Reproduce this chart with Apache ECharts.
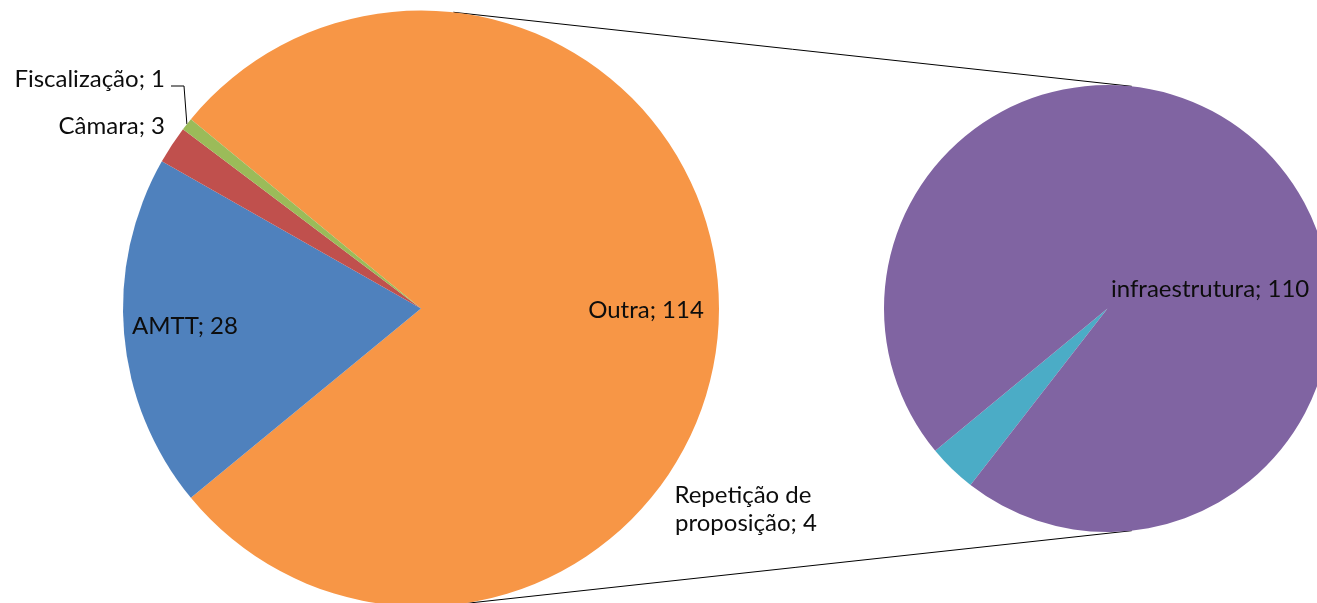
<!DOCTYPE html>
<html>
<head>
<meta charset="utf-8">
<title>Pie of pie</title>
<script src="https://cdn.jsdelivr.net/npm/echarts@6/dist/echarts.min.js"></script>
<style>
  html, body { margin: 0; padding: 0; background: #fff; }
  #chart { width: 1317px; height: 603px; }
</style>
</head>
<body>
<div id="chart"></div>
<script>
// data
var mainNames = ['Outra', 'AMTT', 'Câmara', 'Fiscalização'];
var mainValues = [114, 28, 3, 1];
var mainColors = ['#F79646', '#4F81BD', '#C0504D', '#9BBB59'];

var subNames = ['Repetição de proposição', 'infraestrutura'];
var subValues = [4, 110];
var subColors = ['#4BACC6', '#8064A2'];

// layout
var C1 = [421, 308.5], R1 = 298;
var C2 = [1107.5, 308.5], R2 = 223.5;
var mainSum = mainValues.reduce(function (a, b) { return a + b; }, 0);
var mainStart = 180 * mainValues[0] / mainSum; // "Outra" centred on the right
var subStart = 232.2;

var mainLabelPos = [
    { x: 646, y: 310, align: 'center' },
    { x: 185, y: 326, align: 'center' },
    { x: 165, y: 126, align: 'right' },
    { x: 165, y: 79, align: 'right' }
];
var subLabelPos = [
    { x: 746, y: 509, align: 'center' },
    { x: 1111, y: 289, align: 'left' }
];

var font = { fontFamily: 'Lato', fontSize: 24, color: '#0d0d0d' };

function buildData(names, values, colors) {
    return names.map(function (n, i) {
        return { name: n, value: values[i], itemStyle: { color: colors[i] } };
    });
}

var subData = buildData(subNames, subValues, subColors);
subData[0].label = { width: 180, overflow: 'break', lineHeight: 28, align: 'center' };

// connector lines: outer tangents of the two circles
var phi = Math.acos((R1 - R2) / (C2[0] - C1[0]));
var cs = Math.cos(phi), sn = Math.sin(phi);
function tangentLine(s) {
    return {
        type: 'line',
        shape: {
            x1: C1[0] + R1 * cs, y1: C1[1] + s * R1 * sn,
            x2: C2[0] + R2 * cs, y2: C2[1] + s * R2 * sn
        },
        style: { stroke: '#000', lineWidth: 1 }
    };
}

// leader line for the smallest slice
var fiscMid = (mainStart - 360 * (mainSum - mainValues[3] / 2) / mainSum) * Math.PI / 180;
var fiscEnd = [C1[0] + R1 * Math.cos(fiscMid), C1[1] - R1 * Math.sin(fiscMid)];

var chart = echarts.init(document.getElementById('chart'));
chart.setOption({
    animation: false,
    backgroundColor: '#fff',
    series: [{
        type: 'pie',
        center: C1,
        radius: R1,
        startAngle: mainStart,
        clockwise: true,
        avoidLabelOverlap: false,
        itemStyle: { borderWidth: 0 },
        emphasis: { disabled: true },
        label: Object.assign({ show: true, position: 'inside', formatter: '{b}; {c}' }, font),
        labelLine: { show: false },
        labelLayout: function (p) {
            var l = mainLabelPos[p.dataIndex];
            return { x: l.x, y: l.y, align: l.align, verticalAlign: 'middle' };
        },
        data: buildData(mainNames, mainValues, mainColors)
    }, {
        type: 'pie',
        center: C2,
        radius: R2,
        startAngle: subStart,
        clockwise: true,
        avoidLabelOverlap: false,
        itemStyle: { borderWidth: 0 },
        emphasis: { disabled: true },
        label: Object.assign({ show: true, position: 'inside', formatter: '{b}; {c}' }, font),
        labelLine: { show: false },
        labelLayout: function (p) {
            var l = subLabelPos[p.dataIndex];
            return { x: l.x, y: l.y, align: l.align, verticalAlign: 'middle' };
        },
        data: subData
    }],
    graphic: [
        tangentLine(-1),
        tangentLine(1),
        {
            type: 'polyline',
            shape: { points: [[171, 86], [184, 86], fiscEnd] },
            style: { stroke: '#000', lineWidth: 1, fill: null }
        }
    ]
});
</script>
</body>
</html>
